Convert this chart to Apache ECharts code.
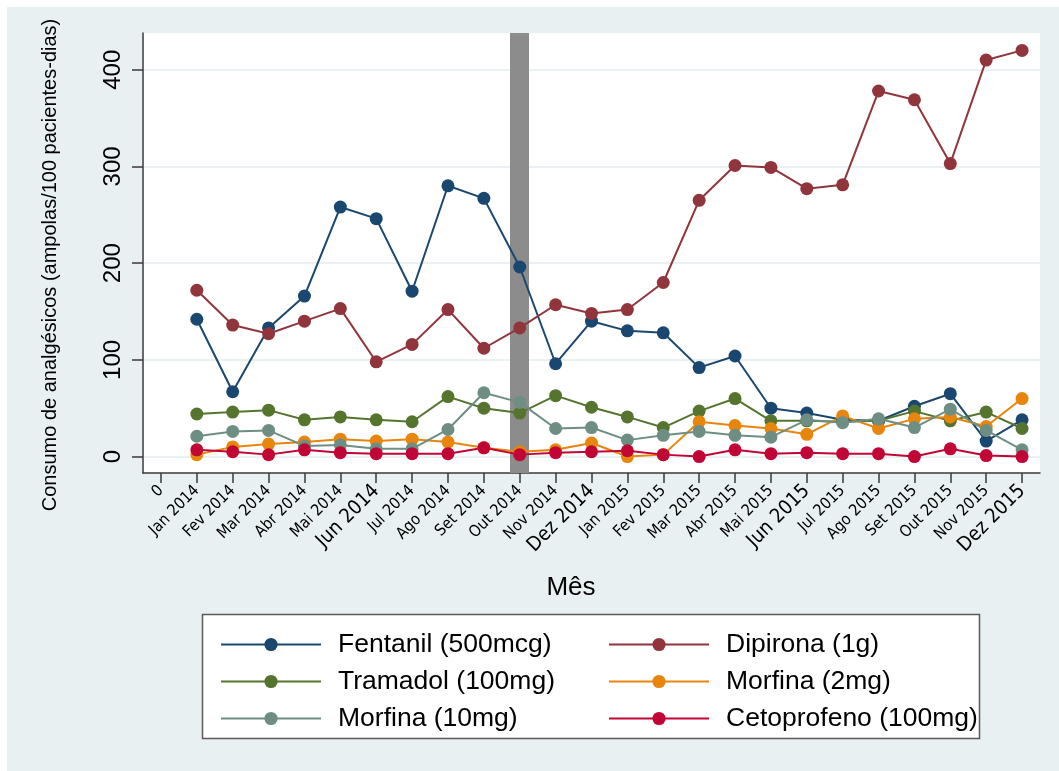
<!DOCTYPE html>
<html>
<head>
<meta charset="utf-8">
<script src="https://cdn.jsdelivr.net/npm/echarts@6/dist/echarts.min.js"></script>
<style>
  html, body { margin: 0; padding: 0; background: #ffffff; }
  #bg { position: absolute; left: 7px; top: 7px; width: 1052px; height: 764px; background: #e8f0f2; }
  #main { position: absolute; left: 0; top: 0; width: 1059px; height: 771px; }
</style>
</head>
<body>
<div id="bg"></div>
<div id="main"></div>
<script>
// ---- Data ----
const categories = ["0","Jan 2014","Fev 2014","Mar 2014","Abr 2014","Mai 2014","Jun 2014","Jul 2014","Ago 2014","Set 2014","Out 2014","Nov 2014","Dez 2014","Jan 2015","Fev 2015","Mar 2015","Abr 2015","Mai 2015","Jun 2015","Jul 2015","Ago 2015","Set 2015","Out 2015","Nov 2015","Dez 2015"];
const bigLabels = ["Jun 2014","Dez 2014","Jun 2015","Dez 2015"];
const yTicks = [0, 100, 200, 300, 400];
const interventionMonth = "Out 2014";

const fentanil    = [null,142,67,133,166,258,246,171,280,267,196,96,140,130,128,92,104,50,45,38,37,52,65,16,38];
const dipirona    = [null,172,136,127,140,153,98,116,152,112,133,157,148,152,180,265,301,299,277,281,378,369,303,410,420];
const tramadol    = [null,44,46,48,38,41,38,36,62,50,45,63,51,41,30,47,60,37,37,36,37,47,37,46,29];
const morfina2    = [null,2,10,13,15,18,16,18,15,9,5,7,14,0,2,36,32,29,23,42,29,39,41,31,60];
const morfina10   = [null,21,26,27,11,12,8,8,28,66,56,29,30,17,22,26,22,20,38,35,39,30,49,27,7];
const cetoprofeno = [null,7,5,2,7,4,3,3,3,9,2,4,5,6,2,0,7,3,4,3,3,0,8,1,0];

const names = {
  fentanil: "Fentanil (500mcg)",
  dipirona: "Dipirona (1g)",
  tramadol: "Tramadol (100mg)",
  morfina2: "Morfina (2mg)",
  morfina10: "Morfina (10mg)",
  cetoprofeno: "Cetoprofeno (100mg)"
};
const colors = {
  fentanil: "#1a476f",
  dipirona: "#90353b",
  tramadol: "#55752f",
  morfina2: "#e8850c",
  morfina10: "#6e8e84",
  cetoprofeno: "#c10534"
};

const COND = "'DejaVu Sans Condensed', 'Liberation Sans', sans-serif";
const REG = "'Liberation Sans', Arial, sans-serif";

function lineSeries(key, data) {
  return {
    name: names[key],
    type: 'line',
    data: data,
    z: 3,
    symbol: 'circle',
    symbolSize: 13,
    showSymbol: true,
    connectNulls: false,
    color: colors[key],
    itemStyle: { color: colors[key] },
    lineStyle: { color: colors[key], width: 2 },
    emphasis: { disabled: true }
  };
}

const chart = echarts.init(document.getElementById('main'), null, { renderer: 'canvas' });
const option = {
  animation: false,
  backgroundColor: 'transparent',
  grid: {
    left: 143, top: 33, width: 897, height: 440,
    show: true, backgroundColor: '#ffffff', borderWidth: 0
  },
  xAxis: {
    type: 'category',
    data: categories,
    boundaryGap: true,
    axisLine: { show: true, onZero: false, lineStyle: { color: '#3a3a3a', width: 1.5 } },
    axisTick: { show: true, alignWithLabel: true, length: 10, interval: 0, lineStyle: { color: '#3a3a3a', width: 1.5 } },
    axisLabel: {
      interval: 0,
      rotate: 45,
      margin: 15,
      color: '#000',
      formatter: function (v) { return bigLabels.indexOf(v) >= 0 ? '{b|' + v + '}' : '{a|' + v + '}'; },
      rich: {
        a: { fontFamily: COND, fontSize: 16, color: '#000' },
        b: { fontFamily: COND, fontSize: 20, color: '#000' }
      }
    },
    splitLine: { show: false }
  },
  yAxis: {
    type: 'value',
    min: -17,
    max: 438,
    axisLine: { show: true, lineStyle: { color: '#3a3a3a', width: 1.5 } },
    axisTick: { show: true, length: 11, customValues: yTicks, lineStyle: { color: '#3a3a3a', width: 1.5 } },
    axisLabel: { customValues: yTicks, rotate: 90, margin: 18, fontFamily: REG, fontSize: 24, color: '#000' },
    splitLine: { show: true, lineStyle: { color: '#e3edef', width: 1.5 } }
  },
  legend: [
    {
      orient: 'vertical', left: 215, top: 621, itemGap: 0,
      itemWidth: 100, itemHeight: 16.5, selectedMode: false,
      data: [names.fentanil, names.tramadol, names.morfina10],
      textStyle: { fontFamily: REG, fontSize: 26.5, color: '#000', lineHeight: 37, padding: [0, 0, 0, 12] }
    },
    {
      orient: 'vertical', left: 603, top: 621, itemGap: 0,
      itemWidth: 100, itemHeight: 16.5, selectedMode: false,
      data: [names.dipirona, names.morfina2, names.cetoprofeno],
      textStyle: { fontFamily: REG, fontSize: 26.5, color: '#000', lineHeight: 37, padding: [0, 0, 0, 12] }
    }
  ],
  graphic: [
    {
      type: 'rect', z: 1,
      shape: { x: 202.5, y: 614.5, width: 777, height: 124 },
      style: { fill: '#ffffff', stroke: '#5a5a5a', lineWidth: 1.5 }
    },
    {
      type: 'text', x: 50, y: 265, rotation: Math.PI / 2,
      style: { text: 'Consumo de analgésicos (ampolas/100 pacientes-dias)', font: '20px ' + REG, fill: '#000', textAlign: 'center', textVerticalAlign: 'middle' }
    },
    {
      type: 'text', x: 571, y: 588,
      style: { text: 'Mês', font: '26px ' + REG, fill: '#000', textAlign: 'center', textVerticalAlign: 'middle' }
    }
  ],
  series: [
    {
      name: 'intervencao',
      type: 'line',
      data: categories.map(function () { return null; }),
      z: 1,
      silent: true,
      markLine: {
        z: 1,
        silent: true,
        symbol: ['none', 'none'],
        label: { show: false },
        lineStyle: { color: '#8c8c8c', width: 19, type: 'solid' },
        emphasis: { disabled: true },
        data: [{ xAxis: interventionMonth }]
      }
    },
    lineSeries('fentanil', fentanil),
    lineSeries('dipirona', dipirona),
    lineSeries('tramadol', tramadol),
    lineSeries('morfina2', morfina2),
    lineSeries('morfina10', morfina10),
    lineSeries('cetoprofeno', cetoprofeno)
  ]
};
chart.setOption(option);
</script>
</body>
</html>
